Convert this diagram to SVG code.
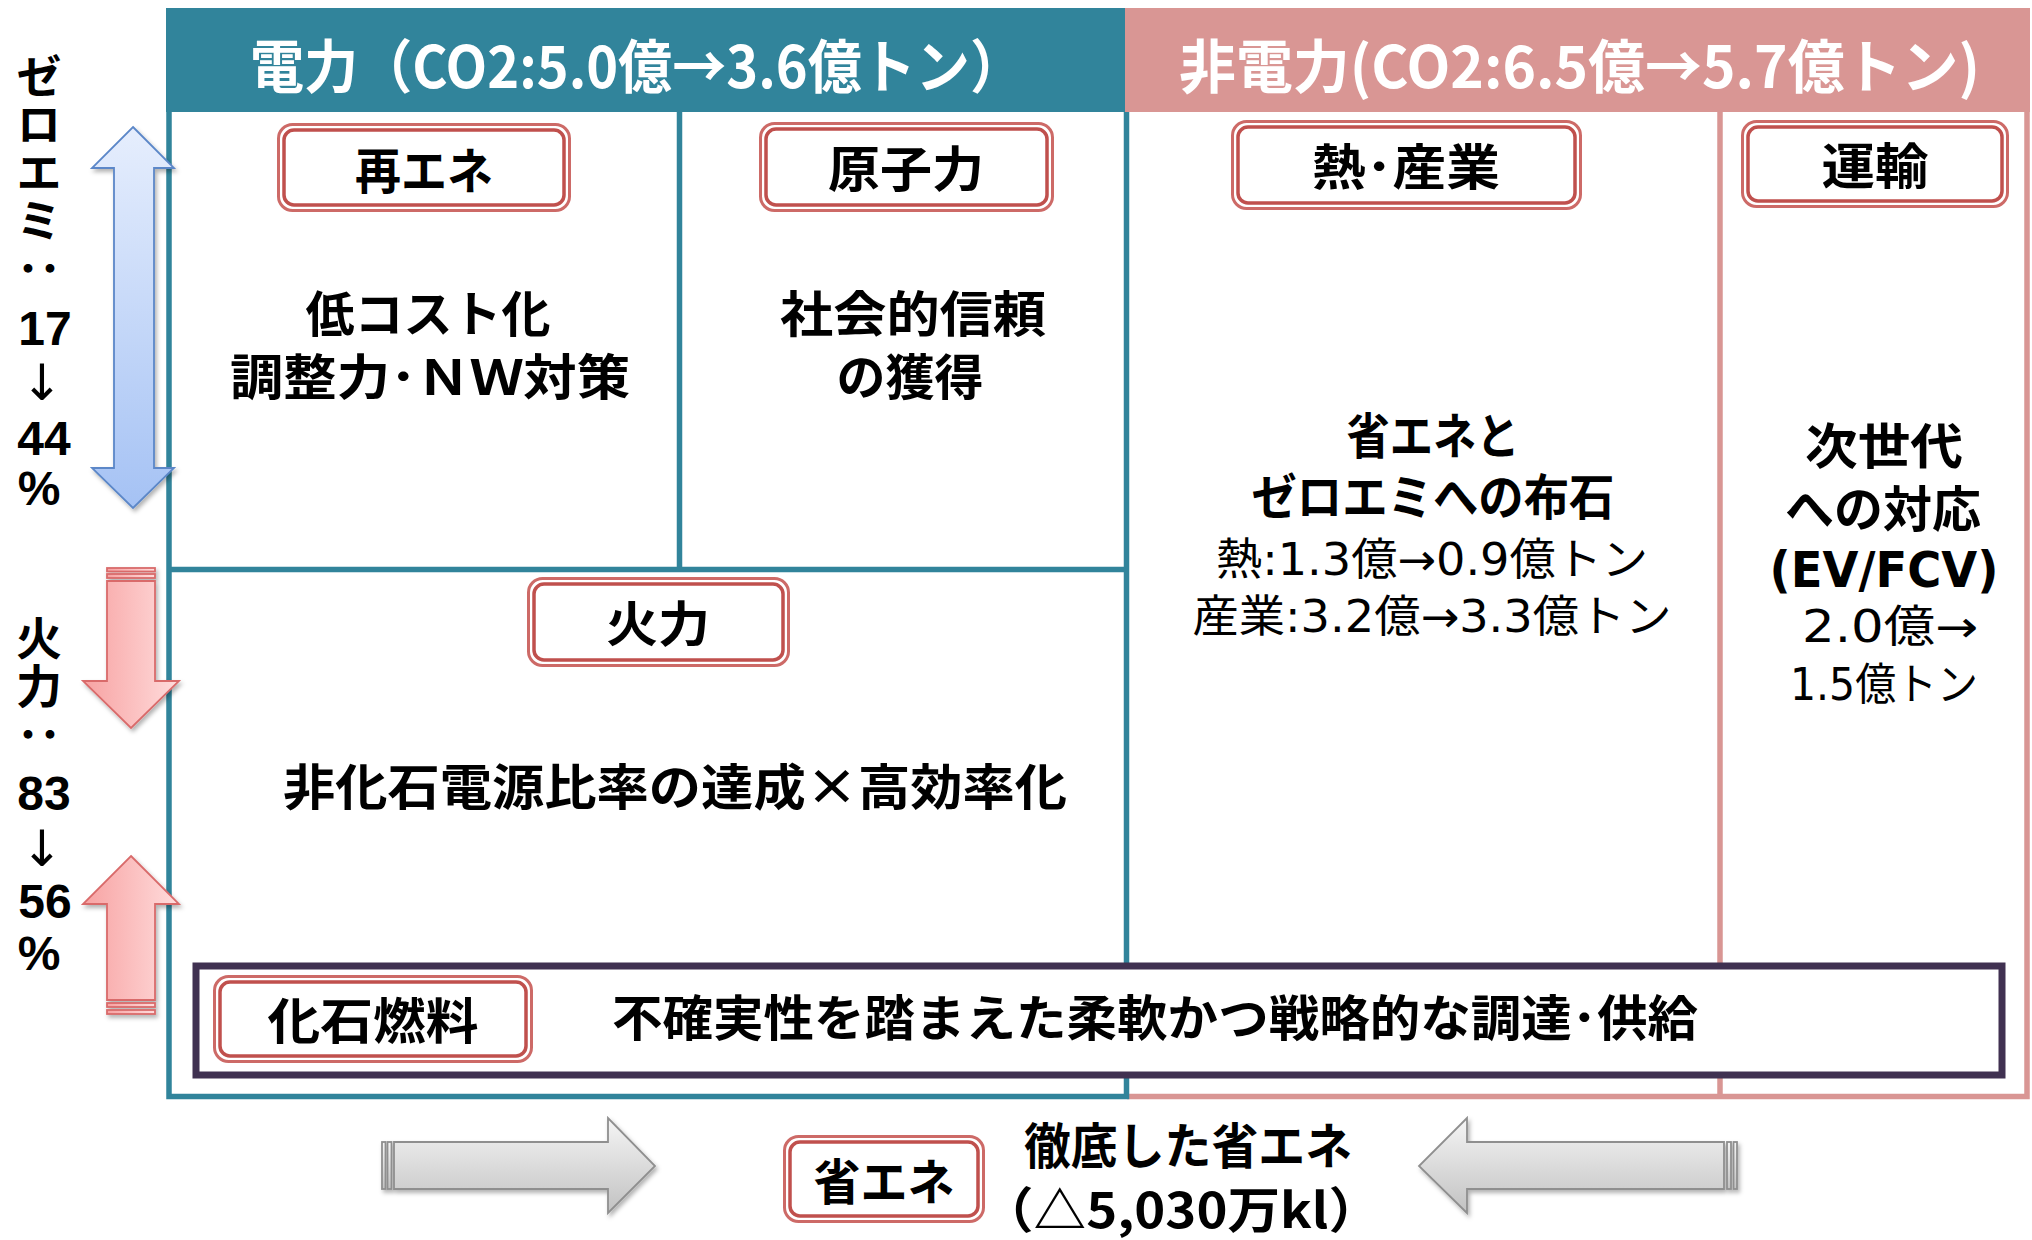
<svg xmlns="http://www.w3.org/2000/svg" width="2032" height="1240" viewBox="0 0 2032 1240">
<style>
text{font-family:"Noto Sans CJK JP","Noto Sans",sans-serif}
.hd{font-weight:700;fill:#fff;font-size:58px}
.b{font-weight:700;fill:#000;font-size:49px}
.r{font-weight:400;fill:#000;font-size:44px}
.c{font-family:"DejaVu Sans","Noto Sans CJK JP",sans-serif}
.v{font-weight:700;fill:#000;font-size:46px;letter-spacing:2px}
.n{font-family:"Liberation Sans",Arial,sans-serif;font-weight:700;fill:#000;font-size:48px}
.dn{font-family:"DejaVu Sans",sans-serif;font-weight:400;fill:#000;font-size:50px}
.lo{fill:#fff;stroke:#CD6A67;stroke-width:3}
.li{fill:none;stroke:#C0504D;stroke-width:3.5}
.bl{stroke:#31849B;stroke-width:5.5;fill:none}
.pk{stroke:#D99694;stroke-width:5.5;fill:none}
.ab{fill:url(#gBlue);stroke:#5B87C8;stroke-width:1.8}
.ar{fill:url(#gRed);stroke:#D96B6B;stroke-width:1.8}
.ag{fill:url(#gGray);stroke:#8F8F8F;stroke-width:1.8}
</style>
<defs>
<linearGradient id="gBlue" x1="0" y1="0" x2="0" y2="1"><stop offset="0" stop-color="#E6EEFD"/><stop offset="1" stop-color="#A5C2F4"/></linearGradient>
<linearGradient id="gRed" x1="0" y1="0" x2="1" y2="0"><stop offset="0" stop-color="#F7A2A2"/><stop offset="1" stop-color="#FFDCDC"/></linearGradient>
<linearGradient id="gGray" x1="0" y1="0" x2="0" y2="1"><stop offset="0" stop-color="#F5F5F5"/><stop offset="1" stop-color="#C2C2C2"/></linearGradient>
<filter id="sh" x="-30%" y="-30%" width="160%" height="160%"><feDropShadow dx="2" dy="3" stdDeviation="2" flood-color="#000" flood-opacity="0.3"/></filter>
</defs>
<rect width="2032" height="1240" fill="#fff"/>

<g id="header-denryoku">
<rect x="166" y="8" width="959" height="104" fill="#31849B"/>
<text class="hd" x="250" y="88" textLength="774" lengthAdjust="spacingAndGlyphs">電力（CO2:5.0億→3.6億トン）</text>
</g>
<g id="header-hidenryoku">
<rect x="1125" y="8" width="905" height="104" fill="#D99694"/>
<text class="hd" x="1179" y="88" textLength="801" lengthAdjust="spacingAndGlyphs">非電力(CO2:6.5億→5.7億トン)</text>
</g>

<g id="frame">
<path class="pk" d="M1127 1096.5H2027V112M1720 112V1096.5"/>
<path class="bl" d="M169 112V1096.5H1126.5V112M169 569.5H1126.5M679.5 112V569.5"/>
</g>

<g id="node-kaseki-box">
<rect x="196" y="966" width="1806" height="109" fill="#fff" stroke="#403151" stroke-width="7"/>
<text class="b" x="612" y="1036" textLength="1086" lengthAdjust="spacingAndGlyphs">不確実性を踏まえた柔軟かつ戦略的な調達･供給</text>
</g>

<g id="node-saiene">
<rect class="lo" x="278.5" y="124.5" width="291" height="86" rx="14"/>
<rect class="li" x="284" y="130" width="280" height="75" rx="10"/>
<text class="b" x="424" y="189" text-anchor="middle" textLength="138" lengthAdjust="spacingAndGlyphs">再エネ</text>
<text class="b c" x="428" y="332" text-anchor="middle">低コスト化</text>
<text class="b c" x="430" y="395" text-anchor="middle" textLength="400" lengthAdjust="spacingAndGlyphs">調整力･ＮＷ対策</text>
</g>

<g id="node-genshiryoku">
<rect class="lo" x="760.5" y="123.5" width="292" height="87" rx="14"/>
<rect class="li" x="766" y="129" width="281" height="76" rx="10"/>
<text class="b" x="906" y="187" text-anchor="middle" textLength="156" lengthAdjust="spacingAndGlyphs">原子力</text>
<text class="b c" x="913" y="332" text-anchor="middle" textLength="266" lengthAdjust="spacingAndGlyphs">社会的信頼</text>
<text class="b c" x="910" y="395" text-anchor="middle">の獲得</text>
</g>

<g id="node-netsu-sangyo">
<rect class="lo" x="1232.5" y="121.5" width="348" height="87" rx="14"/>
<rect class="li" x="1238" y="127" width="337" height="76" rx="10"/>
<text class="b" x="1406" y="185" text-anchor="middle" textLength="188" lengthAdjust="spacingAndGlyphs">熱･産業</text>
<text class="b c" x="1433" y="454" text-anchor="middle" textLength="173" lengthAdjust="spacingAndGlyphs">省エネと</text>
<text class="b c" x="1433" y="515" text-anchor="middle" textLength="363" lengthAdjust="spacingAndGlyphs">ゼロエミへの布石</text>
<text class="r c" x="1432" y="575" text-anchor="middle" textLength="432" lengthAdjust="spacingAndGlyphs">熱:1.3億→0.9億トン</text>
<text class="r c" x="1432" y="632" text-anchor="middle" textLength="479" lengthAdjust="spacingAndGlyphs">産業:3.2億→3.3億トン</text>
</g>

<g id="node-unyu">
<rect class="lo" x="1742.5" y="121.5" width="265" height="85" rx="14"/>
<rect class="li" x="1748" y="127" width="254" height="74" rx="10"/>
<text class="b" x="1875" y="184" text-anchor="middle" textLength="107" lengthAdjust="spacingAndGlyphs">運輸</text>
<text class="b c" x="1884" y="464" text-anchor="middle" textLength="158" lengthAdjust="spacingAndGlyphs">次世代</text>
<text class="b c" x="1883" y="527" text-anchor="middle" textLength="196" lengthAdjust="spacingAndGlyphs">への対応</text>
<text class="b c" x="1884" y="587" text-anchor="middle" textLength="229" lengthAdjust="spacingAndGlyphs">(EV/FCV)</text>
<text class="r c" x="1890" y="642" text-anchor="middle" textLength="176" lengthAdjust="spacingAndGlyphs">2.0億→</text>
<text class="r c" x="1884" y="700" text-anchor="middle" textLength="188" lengthAdjust="spacingAndGlyphs">1.5億トン</text>
</g>

<g id="node-karyoku">
<rect class="lo" x="528.5" y="578.5" width="260" height="87" rx="14"/>
<rect class="li" x="534" y="584" width="249" height="76" rx="10"/>
<text class="b" x="658" y="642" text-anchor="middle" textLength="104" lengthAdjust="spacingAndGlyphs">火力</text>
<text class="b" x="675" y="805" text-anchor="middle" textLength="784" lengthAdjust="spacingAndGlyphs">非化石電源比率の達成×高効率化</text>
</g>

<g id="node-kaseki">
<rect class="lo" x="214.5" y="976.5" width="317" height="85" rx="14"/>
<rect class="li" x="220" y="982" width="306" height="74" rx="10"/>
<text class="b" x="373" y="1039" text-anchor="middle" textLength="211" lengthAdjust="spacingAndGlyphs">化石燃料</text>
</g>

<g id="node-shoene">
<rect class="lo" x="784.5" y="1136.5" width="199" height="85" rx="14"/>
<rect class="li" x="790" y="1142" width="188" height="74" rx="10"/>
<text class="b" x="884" y="1200" text-anchor="middle" textLength="141" lengthAdjust="spacingAndGlyphs">省エネ</text>
<text class="b" x="1188" y="1164" text-anchor="middle" textLength="328" lengthAdjust="spacingAndGlyphs">徹底した省エネ</text>
<text class="b" x="1181" y="1228" text-anchor="middle" textLength="400" lengthAdjust="spacingAndGlyphs">（△5,030万kl）</text>
</g>

<g id="side-zeroemi">
<text class="v" x="39" y="53" writing-mode="vertical-rl">ゼロエミ：</text>
<text class="n" x="45" y="345" text-anchor="middle">17</text>
<text class="dn" x="42" y="400" text-anchor="middle">↓</text>
<text class="n" x="44" y="455" text-anchor="middle">44</text>
<text class="n" x="39" y="505" text-anchor="middle">%</text>
</g>

<g id="side-karyoku">
<text class="v" x="39" y="615" writing-mode="vertical-rl">火力：</text>
<text class="n" x="44" y="810" text-anchor="middle">83</text>
<text class="dn" x="42" y="866" text-anchor="middle">↓</text>
<text class="n" x="45" y="918" text-anchor="middle">56</text>
<text class="n" x="39" y="970" text-anchor="middle">%</text>
</g>

<g id="connectors">
<g filter="url(#sh)">
<polygon class="ab" points="133,127 174,168 154,168 154,468 174,468 133,508 92,468 114,468 114,168 92,168"/>
</g>
<g filter="url(#sh)">
<rect class="ar" x="107" y="568" width="48" height="3.5"/>
<rect class="ar" x="107" y="574" width="48" height="4"/>
<polygon class="ar" points="107,581 155,581 155,681 179,681 131,728 83,681 107,681"/>
</g>
<g filter="url(#sh)">
<rect class="ar" x="107" y="1003" width="48" height="4"/>
<rect class="ar" x="107" y="1010" width="48" height="4"/>
<polygon class="ar" points="131,856 179,904 155,904 155,1000 107,1000 107,904 83,904"/>
</g>
<g filter="url(#sh)">
<rect class="ag" x="382" y="1142" width="3.5" height="47"/>
<rect class="ag" x="387.5" y="1142" width="4" height="47"/>
<polygon class="ag" points="394,1142 608,1142 608,1118 655,1166 608,1213 608,1189 394,1189"/>
</g>
<g filter="url(#sh)">
<rect class="ag" x="1733.5" y="1142" width="3.5" height="47"/>
<rect class="ag" x="1727" y="1142" width="4" height="47"/>
<polygon class="ag" points="1724,1142 1467,1142 1467,1118 1419,1166 1467,1213 1467,1189 1724,1189"/>
</g>
</g>
</svg>
